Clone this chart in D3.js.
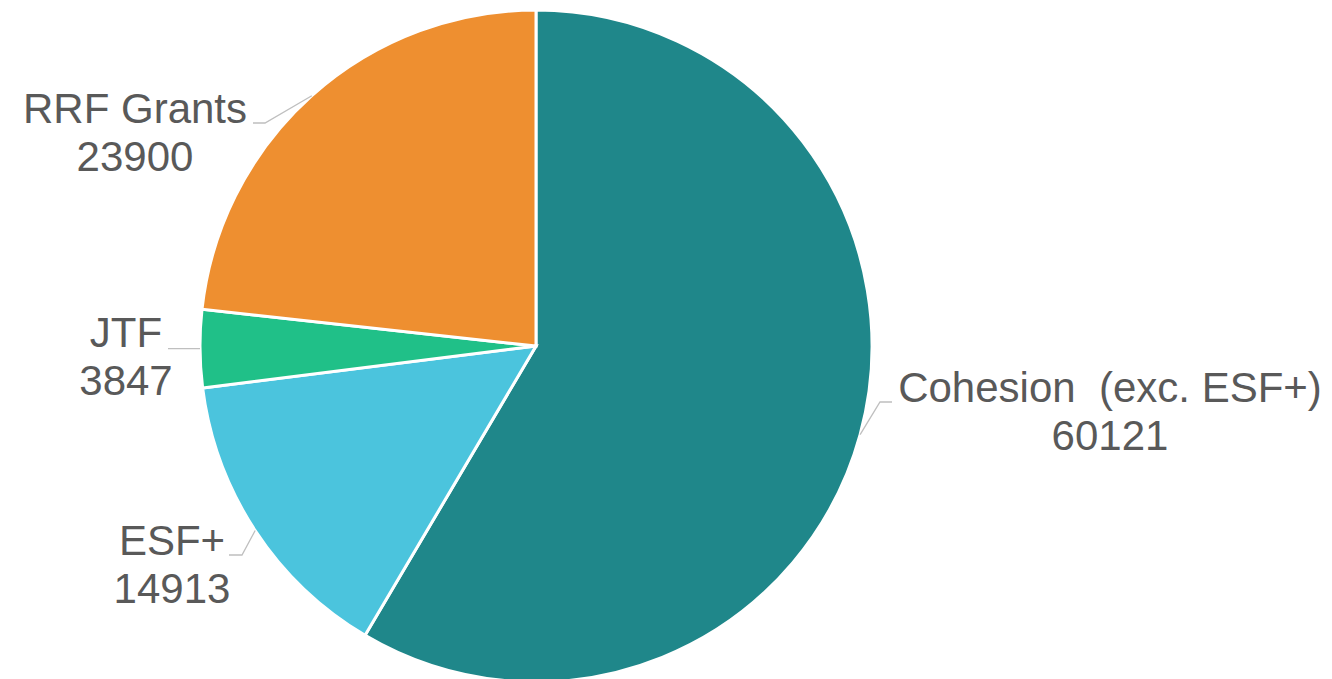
<!DOCTYPE html>
<html>
<head>
<meta charset="utf-8">
<script src="https://cdn.jsdelivr.net/npm/d3@7"></script>
<style>
  html, body { margin: 0; padding: 0; background: #fff; }
  svg { display: block; }
  text { font-family: "Liberation Sans", Arial, sans-serif; white-space: pre; }
</style>
</head>
<body>
<svg id="chart" width="1332" height="679"></svg>
<script>
const categories = ["Cohesion  (exc. ESF+)", "ESF+", "JTF", "RRF Grants"];
const values = [60121, 14913, 3847, 23900];
const colors = ["#1f878a", "#4bc4dd", "#20c088", "#ee8f30"];

// label layout (relative to pie centre): elbow, end of leader, text centre x, first baseline
const labelLayout = [
  { elbow: [344, 56],    endX: 356,  textX: 574,  baseY: 56 },
  { elbow: [-294, 209],  endX: -307, textX: -364, baseY: 209 },
  { elbow: null,         endX: -368, textX: -410, baseY: 1 },
  { elbow: [-271, -223], endX: -283, textX: -401, baseY: -223 }
];

const width = 1332, height = 679;
const cx = 536, cy = 346, radius = 336;
const svg = d3.select("#chart");
const g = svg.append("g").attr("transform", `translate(${cx},${cy})`);

const data = categories.map((c, i) => ({ name: c, value: values[i], color: colors[i], layout: labelLayout[i] }));

const pie = d3.pie().value(d => d.value).sort(null).startAngle(0).endAngle(2 * Math.PI);
const arc = d3.arc().innerRadius(0).outerRadius(radius);
const arcs = pie(data);

g.selectAll("path.slice")
  .data(arcs)
  .join("path")
  .attr("class", "slice")
  .attr("d", arc)
  .attr("fill", d => d.data.color)
  .attr("stroke", "#fff")
  .attr("stroke-width", 3)
  .attr("stroke-linejoin", "miter");

// leader lines
arcs.forEach(a => {
  const mid = (a.startAngle + a.endAngle) / 2;
  const sx = radius * Math.sin(mid), sy = -radius * Math.cos(mid);
  const L = a.data.layout;
  const pts = [[sx, sy]];
  let ey;
  if (L.elbow) { pts.push(L.elbow); ey = L.elbow[1]; } else { ey = sy; }
  pts.push([L.endX, ey]);
  g.append("path")
    .attr("d", d3.line()(pts))
    .attr("fill", "none")
    .attr("stroke", "#bfbfbf")
    .attr("stroke-width", 1.3);

  const t = g.append("text")
    .attr("text-anchor", "middle")
    .attr("fill", "#595959")
    .attr("font-size", 42);
  t.append("tspan").attr("x", L.textX).attr("y", L.baseY).text(a.data.name);
  t.append("tspan").attr("x", L.textX).attr("y", L.baseY + 47.5).text(d3.format("d")(a.data.value));
});
</script>
</body>
</html>
